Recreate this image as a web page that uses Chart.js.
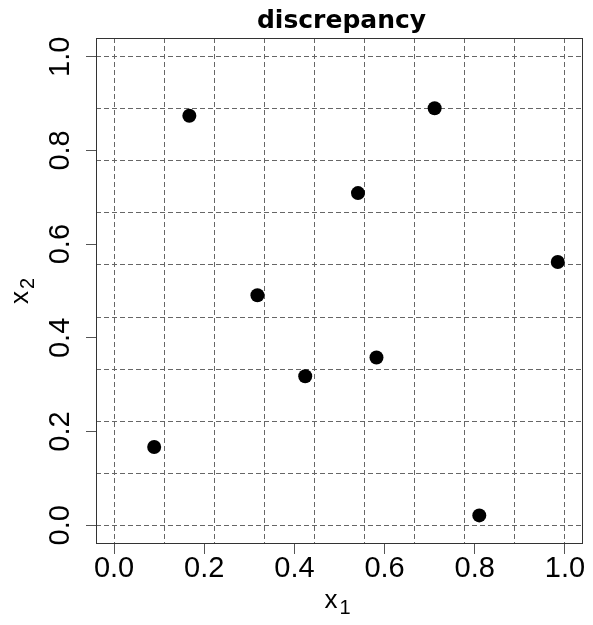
<!DOCTYPE html>
<html>
<head>
<meta charset="utf-8">
<script src="https://cdn.jsdelivr.net/npm/chart.js@4.4.1/dist/chart.umd.min.js"></script>
<style>
  html, body { margin: 0; padding: 0; background: #fff; }
  #wrap { width: 593px; height: 625px; position: relative; }
</style>
</head>
<body>
<div id="wrap"><canvas id="chart"></canvas></div>
<script>
// design points
const x1Values = [0.089, 0.167, 0.318, 0.424, 0.541, 0.582, 0.711, 0.810, 0.984];
const x2Values = [0.167, 0.874, 0.491, 0.318, 0.709, 0.358, 0.890, 0.021, 0.562];

// labelled ticks and the 1/9 grid
const tickValues = [0, 0.2, 0.4, 0.6, 0.8, 1.0];
const gridValues = [0, 0.111, 0.222, 0.333, 0.444, 0.556, 0.667, 0.778, 0.889, 1];

const titleText = 'discrepancy';
// axis labels as [letter, subscript]
const xLabel = ['x', '1'];
const yLabel = ['x', '2'];

const axisMin = -0.04;
const axisMax = 1.04;

const points = x1Values.map((x, i) => ({ x: x, y: x2Values[i] }));

const labelFont = '"Liberation Sans", Arial, sans-serif';

function setTicks(values) {
    return scale => { scale.ticks = values.map(v => ({ value: v })); };
}

// letter with a lowered, smaller index, centred on cx
function drawSubLabel(ctx, parts, cx, baseY) {
    ctx.font = '26px ' + labelFont;
    const w1 = ctx.measureText(parts[0]).width;
    ctx.font = '20px ' + labelFont;
    const w2 = ctx.measureText(parts[1]).width;
    const start = cx - (w1 + 2 + w2) / 2;
    ctx.textAlign = 'left';
    ctx.textBaseline = 'alphabetic';
    ctx.font = '26px ' + labelFont;
    ctx.fillText(parts[0], start, baseY);
    ctx.font = '20px ' + labelFont;
    ctx.fillText(parts[1], start + w1 + 2, baseY + 6);
}

// frame round the plot region, main title and axis labels
const framePlugin = {
    id: 'frame',
    beforeDatasetsDraw(chart) {
        const { ctx, chartArea: a } = chart;
        ctx.save();
        ctx.strokeStyle = '#333';
        ctx.lineWidth = 1;
        ctx.strokeRect(Math.round(a.left) + 0.5, Math.round(a.top) + 0.5,
            Math.round(a.right - a.left) - 1, Math.round(a.bottom - a.top) - 1);
        ctx.restore();
    },
    afterDraw(chart) {
        const { ctx, chartArea: a } = chart;
        const midX = (a.left + a.right) / 2;
        const midY = (a.top + a.bottom) / 2;
        ctx.save();
        ctx.fillStyle = '#000';
        ctx.font = 'bold 25px "DejaVu Sans"';
        ctx.textAlign = 'center';
        ctx.textBaseline = 'alphabetic';
        ctx.fillText(titleText, midX + 2, 28);

        drawSubLabel(ctx, xLabel, midX - 2, 608);

        ctx.translate(28, midY);
        ctx.rotate(-Math.PI / 2);
        drawSubLabel(ctx, yLabel, 0, 0);
        ctx.restore();
    }
};

const gridOpts = {
    color: '#666',
    lineWidth: 1,
    drawTicks: false
};

const tickFont = { family: labelFont, size: 29, lineHeight: 1.0 };

new Chart(document.getElementById('chart'), {
    type: 'scatter',
    data: {
        datasets: [{
            data: points,
            backgroundColor: '#000',
            borderWidth: 0,
            pointRadius: 7,
            pointHoverRadius: 7
        }]
    },
    options: {
        responsive: true,
        maintainAspectRatio: false,
        animation: false,
        layout: { padding: { top: 38, right: 10, left: 0, bottom: 0 } },
        plugins: {
            legend: { display: false },
            tooltip: { enabled: false }
        },
        scales: {
            x: {
                type: 'linear',
                position: 'bottom',
                min: axisMin,
                max: axisMax,
                afterBuildTicks: setTicks(tickValues),
                afterFit: scale => { scale.height = 81; },
                grid: { drawOnChartArea: false, drawTicks: true, tickLength: 10, tickColor: '#555' },
                border: { display: false },
                ticks: {
                    autoSkip: false,
                    maxRotation: 0,
                    padding: 0,
                    color: '#000',
                    font: tickFont,
                    callback: v => v.toFixed(1)
                }
            },
            y: {
                type: 'linear',
                position: 'left',
                min: axisMin,
                max: axisMax,
                afterBuildTicks: setTicks(tickValues),
                afterFit: scale => { scale.width = 96; },
                grid: { drawOnChartArea: false, drawTicks: true, tickLength: 10, tickColor: '#555' },
                border: { display: false },
                ticks: {
                    autoSkip: false,
                    minRotation: 90,
                    maxRotation: 90,
                    crossAlign: 'center',
                    padding: 5,
                    color: '#000',
                    font: tickFont,
                    callback: v => v.toFixed(1)
                }
            },
            xGrid: {
                type: 'linear',
                axis: 'x',
                position: 'bottom',
                min: axisMin,
                max: axisMax,
                afterBuildTicks: setTicks(gridValues),
                afterFit: scale => { scale.height = 0; },
                ticks: { display: false },
                grid: gridOpts,
                border: { display: false, dash: [5, 3] }
            },
            yGrid: {
                type: 'linear',
                axis: 'y',
                position: 'left',
                min: axisMin,
                max: axisMax,
                afterBuildTicks: setTicks(gridValues),
                afterFit: scale => { scale.width = 0; },
                ticks: { display: false },
                grid: gridOpts,
                border: { display: false, dash: [5, 3] }
            }
        }
    },
    plugins: [framePlugin]
});
</script>
</body>
</html>
